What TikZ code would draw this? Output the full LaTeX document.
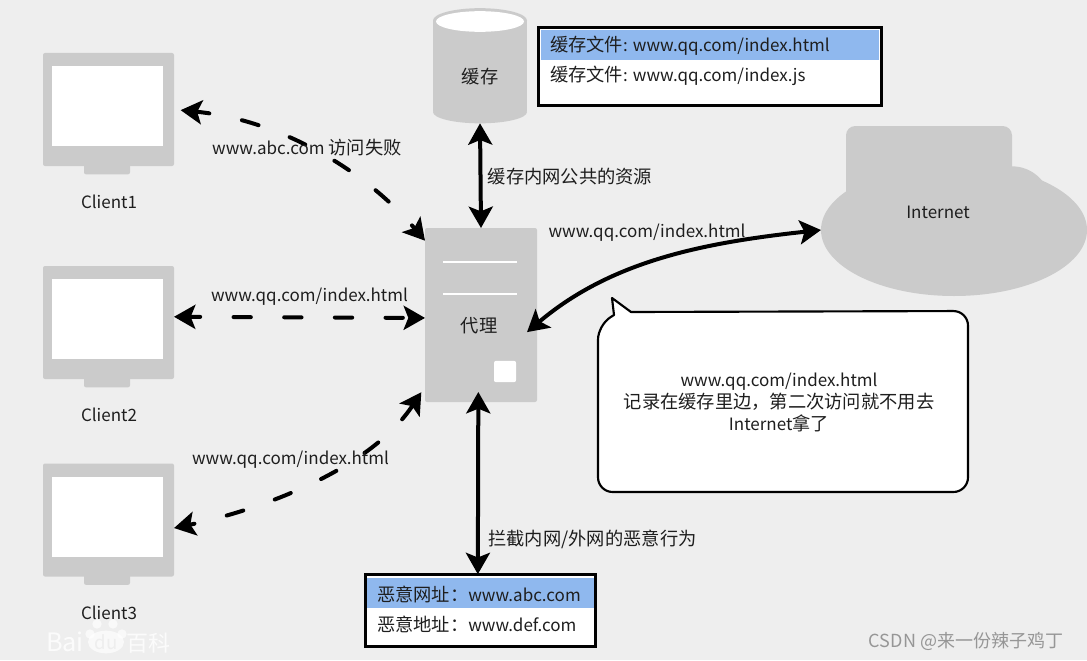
\documentclass[tikz,border=0pt]{standalone}
\usepackage{fontspec}
\setmainfont{Noto Sans CJK SC}
\usetikzlibrary{arrows.meta,shapes.geometric}
\definecolor{pagegray}{RGB}{238, 238, 238}
\definecolor{boxgray}{RGB}{203, 203, 203}
\definecolor{rowblue}{RGB}{143, 184, 238}
\definecolor{inkgray}{RGB}{30, 30, 30}
\definecolor{markgray}{RGB}{150, 150, 150}
\newcommand{\ltn}[1]{{\fontsize{12.75pt}{16.5pt}\selectfont #1}}
\tikzset{
  txt/.style={inner sep=0pt, outer sep=0pt, text=inkgray, font=\fontsize{13.7pt}{16.5pt}\selectfont},
  grayblock/.style={fill=boxgray, inner sep=0pt, outer sep=0pt, rounded corners=1.5pt},
  whiteblock/.style={fill=white, inner sep=0pt, outer sep=0pt},
  grayoval/.style={ellipse, fill=boxgray, inner sep=0pt, outer sep=0pt},
  listbox/.style={draw=black, line width=2.2pt, fill=white, inner sep=0pt, outer sep=0pt},
  rowbar/.style={fill=rowblue, inner sep=0pt, outer sep=0pt},
  link/.style={line width=3pt, black, {Stealth[length=16pt,width=18pt,inset=3.5pt]}-{Stealth[length=16pt,width=18pt,inset=3.5pt]}},
  dashlink/.style={link, line cap=round, dash pattern=on 13pt off 25pt},
}
\begin{document}
\begin{tikzpicture}[x=0.75pt, y=-0.75pt]
\useasboundingbox (0,0) rectangle (1087,660);
\node[fill=pagegray, inner sep=0pt, minimum width=815.25pt, minimum height=495pt] (page) at (543.5,330) {};

% clients
\foreach \i/\y/\ly in {1/109.5/202, 2/322.5/415, 3/520/613} {
  \node[grayblock, minimum width=34.5pt, minimum height=8pt] (stand\i) at (107,\y+59.5) {};
  \node[grayblock, minimum width=98.25pt, minimum height=84.75pt] (client\i) at (108.5,\y) {};
  \node[whiteblock, minimum width=83.25pt, minimum height=60pt] (screen\i) at (107.5,\y-3.5) {};
  \node[txt] (clientlabel\i) at (109,\ly) {\ltn{Client\i}};
}

% cache
\node[grayoval, minimum width=70.5pt, minimum height=17pt] (cachebase) at (480,112) {};
\node[fill=boxgray, inner sep=0pt, outer sep=0pt, minimum width=70.5pt, minimum height=68pt] (cache) at (480,66) {};
\node[grayoval, minimum width=70.5pt, minimum height=18.5pt] (cacherim) at (480,20.5) {};
\node[ellipse, whiteblock, minimum width=66pt, minimum height=15.5pt] (cachetop) at (480,21.5) {};
\node[txt] (cachelabel) at (480,77) {缓存};

\node[listbox, minimum width=257pt, minimum height=58pt] (cachelist) at (710,66.5) {};
\node[rowbar, minimum width=254pt, minimum height=22.5pt] (cacherow) at (710,45) {};
\node[txt, anchor=west] (cachefile1) at (550,46) {缓存文件\ltn{: www.qq.com/index.html}};
\node[txt, anchor=west] (cachefile2) at (550,76) {缓存文件\ltn{: www.qq.com/index.js}};

% proxy
\node[grayblock, minimum width=84pt, minimum height=130.5pt] (proxy) at (481,315) {};
\foreach \y in {262,294}
  \node[whiteblock, minimum width=55.5pt, minimum height=1.3pt] (slot\y) at (480,\y) {};
\node[whiteblock, rounded corners=1.5pt, minimum width=16.5pt, minimum height=16pt] (led) at (505,371.5) {};
\node[txt] (proxylabel) at (479,326) {代理};

% internet
\node[grayoval, minimum width=199.5pt, minimum height=99pt] (internet) at (954,230) {};
\node[fill=boxgray, rounded corners=7pt, inner sep=0pt, minimum width=124.5pt, minimum height=60pt] (cloudtop) at (929,166) {};
\node[circle, fill=boxgray, inner sep=0pt, minimum size=58pt] (cloudbump) at (1012,205) {};
\node[txt] (netlabel) at (938,212) {\ltn{Internet}};

% blacklist
\node[listbox, minimum width=173pt, minimum height=54.5pt] (badlist) at (480.5,610.5) {};
\node[rowbar, minimum width=170pt, minimum height=22.5pt] (badrow) at (480.5,593) {};
\node[txt, anchor=west] (badurl1) at (377,594) {恶意网址：\ltn{www.abc.com}};
\node[txt, anchor=west] (badurl2) at (377,624) {恶意地址：\ltn{www.def.com}};

% speech bubble
\draw[line width=1.6pt, fill=white, line join=round] (631,312) [rounded corners=11pt] -- (968,311) -- (968,492) -- (598,492) -- (598,325) [sharp corners] -- (614,315) -- (612,298) -- cycle;
\node[txt, align=center] (note) at (779,402) {\ltn{www.qq.com/index.html}\\记录在缓存里边，第二次访问就不用去\\\ltn{Internet}拿了};

% connectors
\draw[dashlink, shorten <=5pt, dash phase=3pt] (client1.east) .. controls (280,120) and (365,170) .. (proxy.127);
\draw[dashlink, dash phase=5pt] (client2.5) -- (proxy.183);
\draw[dashlink, shorten >=5pt, dash phase=9pt] (client3.-7) .. controls (260,510) and (370,470) .. (proxy.232);
\draw[link] (cachebase.south) -- (proxy.north);
\draw[link] ([xshift=-2pt,yshift=7.5pt]proxy.south) -- ([xshift=-2pt]badlist.north);
\draw[link] ([xshift=-7.5pt]proxy.-17) .. controls (610,262) and (700,243) .. (internet.west);

% labels
\node[txt] (failtext) at (307,148) {\ltn{www.abc.com} 访问失败};
\node[txt] (url2) at (309.5,297) {\ltn{www.qq.com/index.html}};
\node[txt] (url3) at (290.5,460) {\ltn{www.qq.com/index.html}};
\node[txt] (url4) at (647,233) {\ltn{www.qq.com/index.html}};
\node[txt] (cachetext) at (570,177) {缓存内网公共的资源};
\node[txt] (blocktext) at (592.5,539) {拦截内网/外网的恶意行为};

% watermarks
\foreach \x/\y [count=\k] in {90/634, 97/624, 113/624, 122/634}
  \node[circle, fill=white, opacity=0.7, inner sep=0pt, minimum size=7pt] (paw\k) at (\x,\y) {};
\node[ellipse, fill=white, opacity=0.7, inner sep=0pt, minimum width=27pt, minimum height=17pt] (pawbase) at (106,642) {};
\node[inner sep=0pt, text=white, opacity=0.8, font=\fontsize{19pt}{19pt}\selectfont] (baimark) at (65,642) {Bai};
\node[inner sep=0pt, text=pagegray, font=\fontsize{14pt}{14pt}\selectfont] (dumark) at (106,642) {du};
\node[inner sep=0pt, text=white, opacity=0.8, font=\fontsize{16.5pt}{17pt}\selectfont] (baikemark) at (148,643) {百科};
\node[inner sep=0pt, text=markgray, font=\fontsize{13.5pt}{16pt}\selectfont] (csdn) at (966,641) {CSDN @来一份辣子鸡丁};
\end{tikzpicture}
\end{document}
